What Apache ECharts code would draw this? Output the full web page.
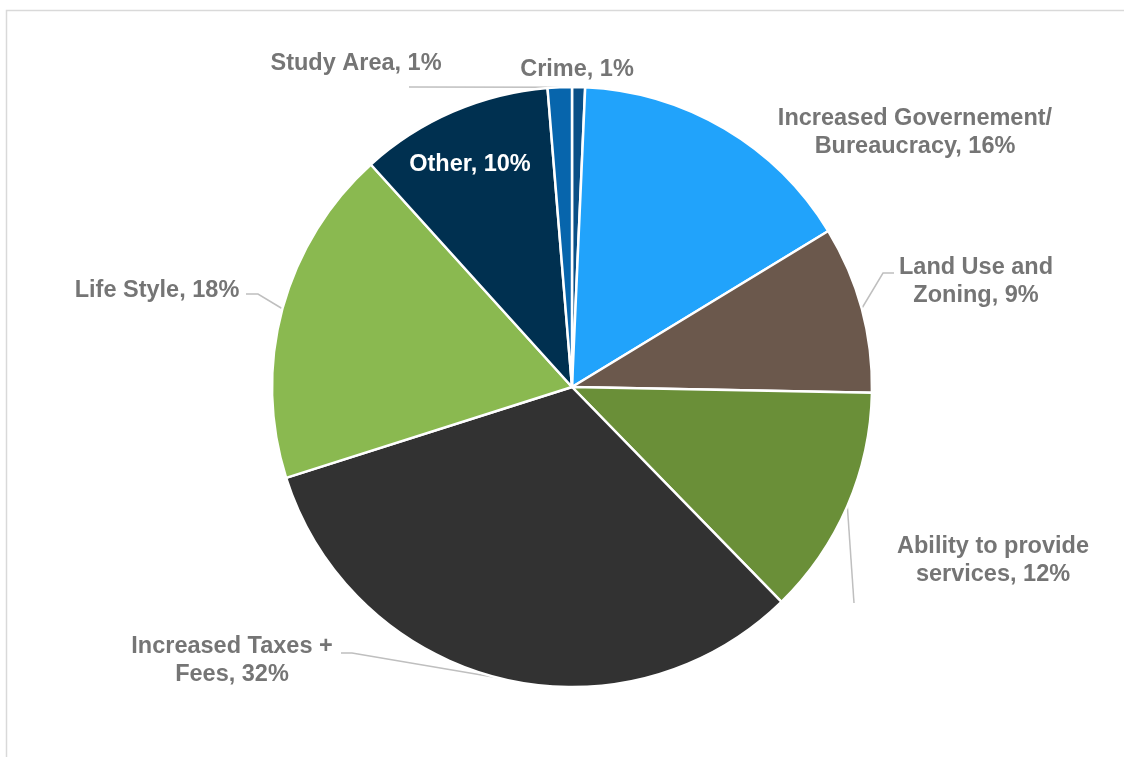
<!DOCTYPE html>
<html>
<head>
<meta charset="utf-8">
<style>
  html, body { margin: 0; padding: 0; background: #ffffff; }
  #chart { width: 1124px; height: 757px; }
</style>
<script src="https://cdn.jsdelivr.net/npm/echarts@6/dist/echarts.min.js"></script>
</head>
<body>
<div id="chart"></div>
<script>
// ---- data (clockwise from 12 o'clock) ----
const categories = [
  'Crime',
  'Increased Governement/\nBureaucracy',
  'Land Use and\nZoning',
  'Ability to provide\nservices',
  'Increased Taxes +\nFees',
  'Life Style',
  'Other',
  'Study Area'
];
const values = [0.7, 15.6, 9.0, 12.4, 32.4, 18.2, 10.4, 1.3];
const colors = ['#0a4f86', '#21a3fb', '#6b584c', '#6a8f38', '#323232', '#8ab950', '#003050', '#0765ac'];

// ---- label placement (styling only) ----
const labelPos = [
  [577, 70], [915, 133], [976, 282], [993, 561],
  [232, 661], [157, 291], [470, 165], [356, 64]
];
const lineTail = [
  null, null, [[883, 273], [894, 273]], [[854, 603]],
  [[352, 653], [341, 653]], [[258, 294], [246, 294]], null, [[409, 87]]
];

const chart = echarts.init(document.getElementById('chart'), null, { renderer: 'canvas' });
const FONT = '"Liberation Sans", Arial, Helvetica, sans-serif';

const data = categories.map((name, i) => ({
  name: name,
  value: values[i],
  itemStyle: { color: colors[i] },
  label: name === 'Other' ? { color: '#ffffff' } : {},
  labelLine: { show: lineTail[i] !== null }
}));

chart.setOption({
  animation: false,
  backgroundColor: '#ffffff',
  graphic: [{
    type: 'rect',
    shape: { x: 6.5, y: 10.5, width: 1300, height: 900 },
    style: { fill: 'none', stroke: '#d9d9d9', lineWidth: 1.5 },
    silent: true
  }],
  series: [{
    type: 'pie',
    center: [572, 387],
    radius: [0, 300],
    startAngle: 90,
    clockwise: true,
    avoidLabelOverlap: false,
    itemStyle: { borderColor: '#ffffff', borderWidth: 2.5 },
    label: {
      show: true,
      position: 'outside',
      fontFamily: FONT,
      fontWeight: 'bold',
      fontSize: 23.5,
      lineHeight: 28,
      color: '#757575',
      align: 'center',
      formatter: p => p.name + ', ' + Math.round(p.value) + '%'
    },
    labelLine: {
      show: true,
      length: 10,
      length2: 10,
      lineStyle: { color: '#bfbfbf', width: 1.5 }
    },
    labelLayout: function (params) {
      const i = params.dataIndex;
      const pos = labelPos[i];
      const out = { x: pos[0], y: pos[1], align: 'center', verticalAlign: 'middle' };
      if (lineTail[i] && params.labelLinePoints) {
        out.labelLinePoints = [params.labelLinePoints[0]].concat(lineTail[i]);
      }
      return out;
    },
    data: data
  }]
});
</script>
</body>
</html>
